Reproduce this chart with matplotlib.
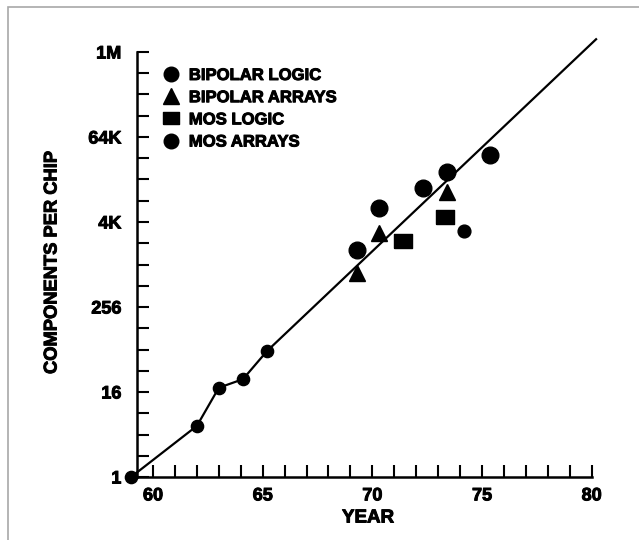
#!/usr/bin/env python3

import matplotlib
matplotlib.use('Agg')
import matplotlib.pyplot as plt
import matplotlib.patheffects as pe
from matplotlib.lines import Line2D
from matplotlib.patches import Rectangle
from matplotlib.ticker import FixedLocator, NullFormatter

plt.rcParams['font.family'] = ['Liberation Sans', 'DejaVu Sans']
plt.rcParams['font.weight'] = 'bold'

# trend line as drawn on the chart (year, components per chip)
trend_years = [59, 62, 63, 64.1, 65.2, 80.2]
trend_comps = [1, 5.3, 18.4, 24.3, 61, 1.59e6]

bipolar_logic_years = [59, 62, 63, 64.1, 65.2]
bipolar_logic_comps = [1, 5.3, 18.4, 24.3, 61]
bipolar_logic_late_years = [74.2]
bipolar_logic_late_comps = [3080]

bipolar_arrays_years = [69.3, 70.3, 73.4]
bipolar_arrays_comps = [771, 2896, 11030]

mos_logic_years = [71.4, 73.3]
mos_logic_comps = [2195, 4770]

mos_arrays_years = [69.3, 70.3, 72.3, 73.4, 75.35]
mos_arrays_comps = [1640, 6515, 12330, 21170, 36350]

year_ticks = [60, 65, 70, 75, 80]
year_minor = list(range(60, 81))
comp_ticks = [1, 16, 256, 4096, 65536, 1048576]
comp_labels = ['1', '16', '256', '4K', '64K', '1M']
comp_minor = [2 ** k for k in range(21)]

legend_labels = ['BIPOLAR LOGIC', 'BIPOLAR ARRAYS', 'MOS LOGIC', 'MOS ARRAYS']

W, H = 639, 540
fig = plt.figure(figsize=(W / 100, H / 100), dpi=100)

# heavier lettering, like the printed original
heavy = [pe.withStroke(linewidth=0.7, foreground='black')]

# axes placed in pixel terms: year 59 -> x=131, year 80 -> x=592, 1 -> y=477, 1M -> y=52
ax = fig.add_axes([131.1 / W, (H - 477) / H, (591.7 - 131.1) / W, (477 - 52) / H])
ax.set_facecolor('none')

rect_marker = [(-1.3, -1), (1.3, -1), (1.3, 1), (-1.3, 1), (-1.3, -1)]

ax.plot(trend_years, trend_comps, color='black', lw=1.6, clip_on=False, zorder=2)
ax.plot(bipolar_logic_years, bipolar_logic_comps, 'o', color='black',
        ms=8.8, clip_on=False, zorder=3)
ax.plot(bipolar_logic_late_years, bipolar_logic_late_comps, 'o', color='black',
        ms=9.2, clip_on=False, zorder=3)
ax.plot(bipolar_arrays_years, bipolar_arrays_comps, '^', color='black',
        ms=12, clip_on=False, zorder=3)
ax.plot(mos_logic_years, mos_logic_comps, marker=rect_marker, ls='',
        color='black', ms=13, clip_on=False, zorder=3)
ax.plot(mos_arrays_years, mos_arrays_comps, 'o', color='black',
        ms=12, clip_on=False, zorder=3)

ax.set_xlim(59, 80)
ax.set_yscale('log', base=2)
ax.set_ylim(1, 2 ** 20)

ax.spines['top'].set_visible(False)
ax.spines['right'].set_visible(False)
ax.spines['left'].set_position(('data', 59.25))
ax.spines['left'].set_linewidth(1.8)
ax.spines['bottom'].set_linewidth(1.8)

ax.set_xticks(year_ticks)
ax.set_xticklabels([str(y) for y in year_ticks])
ax.xaxis.set_minor_locator(FixedLocator(year_minor))
ax.yaxis.set_major_locator(FixedLocator(comp_ticks))
ax.set_yticklabels(comp_labels)
ax.yaxis.set_minor_locator(FixedLocator(comp_minor))
ax.yaxis.set_minor_formatter(NullFormatter())

ax.tick_params(which='both', direction='in', length=8.5, width=1.5,
               color='black', labelsize=13)
ax.tick_params(axis='x', which='major', pad=7.5)
ax.tick_params(axis='y', which='major', pad=11)
for lab in ax.get_xticklabels() + ax.get_yticklabels():
    lab.set_fontweight('bold')
    lab.set_path_effects(heavy)
for t in ax.xaxis.get_major_ticks() + ax.xaxis.get_minor_ticks():
    t.tick1line.set_clip_on(False)
for t in ax.yaxis.get_major_ticks() + ax.yaxis.get_minor_ticks():
    t.tick1line.set_clip_on(False)

handles = [
    Line2D([], [], marker='o', ls='', color='black', ms=10.5),
    Line2D([], [], marker='^', ls='', color='black', ms=11.5),
    Line2D([], [], marker=rect_marker, ls='', color='black', ms=12),
    Line2D([], [], marker='o', ls='', color='black', ms=10.5),
]
leg = fig.legend(handles, legend_labels, loc='upper left',
                 bbox_to_anchor=(163 / W, 1 - 68 / H), bbox_transform=fig.transFigure,
                 frameon=False, borderpad=0, borderaxespad=0, handlelength=1.0,
                 handletextpad=0.55, labelspacing=0.43,
                 prop={'size': 12, 'weight': 'bold'})
for txt in leg.get_texts():
    txt.set_path_effects(heavy)

fig.text(368 / W, 1 - 518 / H, 'YEAR', ha='center', va='center',
         fontsize=13.5, fontweight='bold', path_effects=heavy)
fig.text(52 / W, 1 - 262 / H, 'COMPONENTS PER CHIP', ha='center', va='center',
         rotation=90, fontsize=13.2, fontweight='bold', path_effects=heavy)

# light grey frame around the picture (top and left edges show)
fig.add_artist(Rectangle((8 / W, -0.1), 1.2, (H - 7.5) / H + 0.1,
                         transform=fig.transFigure, fill=False,
                         edgecolor='#a8a8a8', lw=1.2))

fig.savefig('out.png', dpi=100)
